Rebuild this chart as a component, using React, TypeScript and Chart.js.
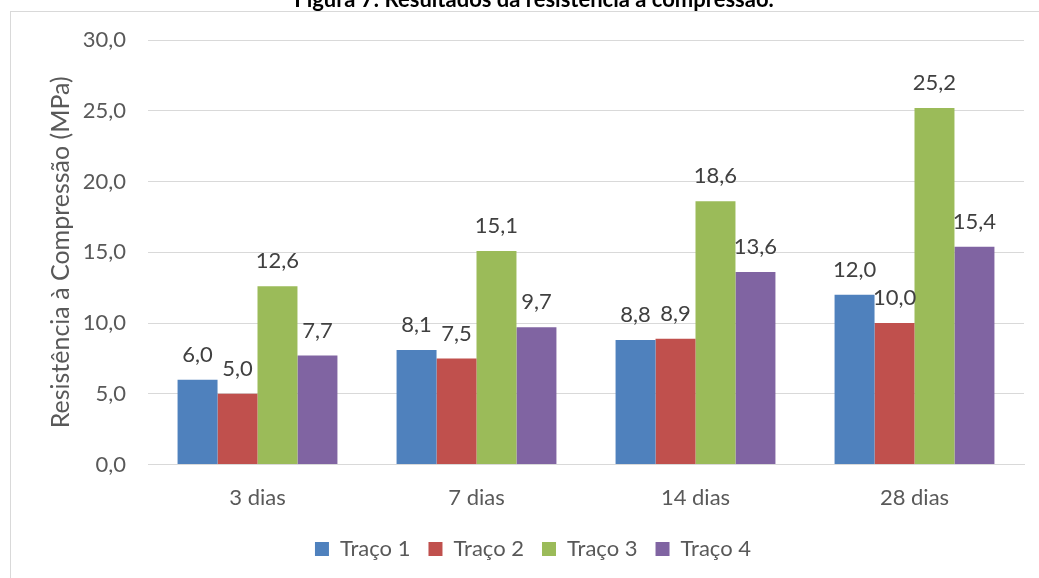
import React, { useEffect, useRef } from "react";
import { Chart, registerables } from "chart.js";

Chart.register(...registerables);

const categories = ["3 dias", "7 dias", "14 dias", "28 dias"];
const seriesNames = ["Traço 1", "Traço 2", "Traço 3", "Traço 4"];
const traco1 = [6.0, 8.1, 8.8, 12.0];
const traco2 = [5.0, 7.5, 8.9, 10.0];
const traco3 = [12.6, 15.1, 18.6, 25.2];
const traco4 = [7.7, 9.7, 13.6, 15.4];
const colors = ["#4F81BD", "#C0504D", "#9BBB59", "#8064A2"];
const yMin = 0;
const yMax = 30;
const yStep = 5;
const titleText = "Figura 7: Resultados da resistência à compressão.";
const yTitle = "Resistência à Compressão (MPa)";

const FONT = "Lato, 'Open Sans', sans-serif";
const FS = 22;

const fmt = (v: number) => v.toFixed(1).replace(".", ",");

const framePlugin = {
  id: "frame",
  beforeDraw(chart: any) {
    const ctx = chart.ctx;
    ctx.save();
    ctx.fillStyle = "#ffffff";
    ctx.fillRect(0, 0, chart.width, chart.height);
    ctx.strokeStyle = "#d9d9d9";
    ctx.lineWidth = 1;
    ctx.strokeRect(10.5, 11.5, 1052, 620);
    ctx.fillStyle = "#000000";
    ctx.font = `bold 22px ${FONT}`;
    ctx.textAlign = "center";
    ctx.textBaseline = "alphabetic";
    ctx.fillText(titleText, 534, 7);
    ctx.restore();
  },
};

const labelPlugin = {
  id: "valueLabels",
  afterDatasetsDraw(chart: any) {
    const ctx = chart.ctx;
    ctx.save();
    ctx.fillStyle = "#404040";
    ctx.font = `${FS}px ${FONT}`;
    ctx.textAlign = "center";
    ctx.textBaseline = "middle";
    chart.data.datasets.forEach((ds: any, i: number) => {
      const meta = chart.getDatasetMeta(i);
      meta.data.forEach((bar: any, j: number) => {
        ctx.fillText(fmt(ds.data[j]), bar.x, bar.y - 25);
      });
    });
    ctx.restore();
  },
};

export default function App() {
  const ref = useRef<HTMLCanvasElement | null>(null);
  useEffect(() => {
    document.body.style.margin = "0";
    document.body.style.overflow = "hidden";
    if (!ref.current) return;
    const all = [traco1, traco2, traco3, traco4];
    const chart = new Chart(ref.current, {
      type: "bar",
      data: {
        labels: categories,
        datasets: all.map((d, i) => ({
          label: seriesNames[i],
          data: d,
          backgroundColor: colors[i],
          borderWidth: 0,
          barPercentage: 1,
          categoryPercentage: 0.73,
        })),
      },
      options: {
        animation: false,
        responsive: false,
        maintainAspectRatio: false,
        devicePixelRatio: 1,
        layout: { padding: { left: 42, right: 15, top: 40, bottom: 8 } },
        plugins: {
          title: { display: false },
          tooltip: { enabled: false },
          legend: {
            position: "bottom",
            labels: {
              boxWidth: 14,
              boxHeight: 14,
              padding: 18,
              color: "#595959",
              font: { family: FONT, size: FS },
            },
          },
        },
        scales: {
          x: {
            grid: { display: false, drawTicks: false },
            border: { display: true, color: "#d9d9d9", width: 1 },
            ticks: { color: "#595959", font: { family: FONT, size: FS }, padding: 20 },
            afterFit: (scale: any) => {
              scale.height = scale.height - 11;
            },
          },
          y: {
            min: yMin,
            max: yMax,
            grid: { color: "#d9d9d9", lineWidth: 1, drawTicks: false },
            border: { display: false },
            ticks: {
              stepSize: yStep,
              color: "#595959",
              padding: 22,
              font: { family: FONT, size: FS },
              callback: (v: any) => fmt(Number(v)),
            },
            title: {
              display: true,
              text: yTitle,
              color: "#595959",
              font: { family: FONT, size: 25, weight: "normal" },
            },
            afterFit: (scale: any) => {
              scale.width = 106;
            },
          },
        },
      },
      plugins: [framePlugin, labelPlugin],
    });
    return () => chart.destroy();
  }, []);
  return (
    <div style={{ position: "fixed", left: 0, top: 0, width: 1039, height: 578 }}>
      <canvas ref={ref} width={1039} height={578} style={{ width: 1039, height: 578 }} />
    </div>
  );
}
